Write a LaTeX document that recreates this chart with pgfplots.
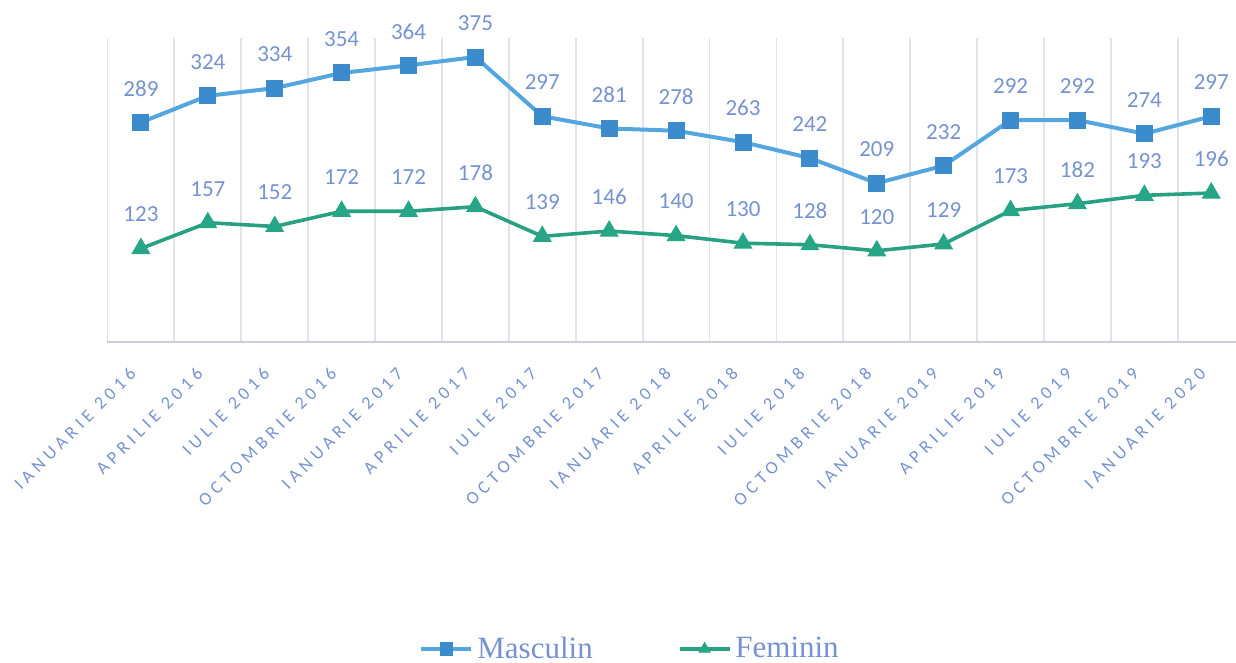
\documentclass[border=0pt]{standalone}
\usepackage{fontspec}
\setmainfont{Carlito}
\newfontfamily\tickfont[LetterSpace=26]{Carlito}
\newfontfamily\legfont{Liberation Serif}
\usepackage{pgfplots}
\pgfplotsset{compat=1.18}
\definecolor{lblue}{RGB}{118,146,208}
\definecolor{mline}{RGB}{84,166,222}
\definecolor{mmark}{RGB}{60,140,205}
\definecolor{fline}{RGB}{40,160,130}
\definecolor{fmark}{RGB}{38,165,135}
\definecolor{gridc}{RGB}{224,227,236}
\begin{document}
\begin{tikzpicture}
\begin{axis}[
  at={(0pt,0pt)}, anchor=south west,
  scale only axis, width=568.6pt, height=152pt,
  xmin=-0.5, xmax=16.5, ymin=0, ymax=400,
  clip=false,
  /pgf/number format/assume math mode=true,
  axis y line=none, axis x line*=bottom,
  x axis line style={draw=gridc!80!gray, line width=1pt},
  xtick={0,...,16},
  xticklabels={IANUARIE 2016,APRILIE 2016,IULIE 2016,OCTOMBRIE 2016,IANUARIE 2017,APRILIE 2017,IULIE 2017,OCTOMBRIE 2017,IANUARIE 2018,APRILIE 2018,IULIE 2018,OCTOMBRIE 2018,IANUARIE 2019,APRILIE 2019,IULIE 2019,OCTOMBRIE 2019,IANUARIE 2020},
  major tick length=0pt, minor tick length=0pt,
  minor xtick={-0.5,0.5,...,16.5},
  xminorgrids, minor grid style={draw=gridc, line width=0.9pt},
  xticklabel style={rotate=45, anchor=north east, font=\tickfont\fontsize{9}{10}\selectfont, text=lblue, inner sep=1pt, xshift=-12pt, yshift=-3pt},
  nodes near coords,
  every node near coord/.append style={anchor=center, yshift=17pt, font=\fontsize{11.5}{12}\selectfont, text=lblue},
  legend columns=2,
  legend style={at={(axis description cs:0.4604,-1.01)}, anchor=center, draw=none, fill=none,
    font=\legfont\fontsize{15.5}{16}\selectfont, text=lblue,
    /tikz/every even column/.append style={column sep=40.5pt}},
  legend image code/.code={\draw[mark repeat=2,mark phase=2,mark size=3.2pt] plot coordinates {(0pt,0pt) (12.5pt,0pt) (25pt,0pt)};},
]
\addplot[color=mline, line width=2pt, mark=square*, mark size=4pt, mark options={fill=mmark, draw=mmark, line width=0.5pt}]
coordinates {(0,289)(1,324)(2,334)(3,354)(4,364)(5,375)(6,297)(7,281)(8,278)(9,263)(10,242)(11,209)(12,232)(13,292)(14,292)(15,274)(16,297)};
\addlegendentry{Masculin}
\addplot[color=fline, line width=1.8pt, mark=triangle*, mark size=5pt, mark options={fill=fmark, draw=fmark, line width=0.5pt}]
coordinates {(0,123)(1,157)(2,152)(3,172)(4,172)(5,178)(6,139)(7,146)(8,140)(9,130)(10,128)(11,120)(12,129)(13,173)(14,182)(15,193)(16,196)};
\addlegendentry{Feminin}
\end{axis}
\pgfresetboundingbox
\path[use as bounding box] (-53.75pt,-160.5pt) rectangle ++(618pt,331.5pt);
\end{tikzpicture}
\end{document}
